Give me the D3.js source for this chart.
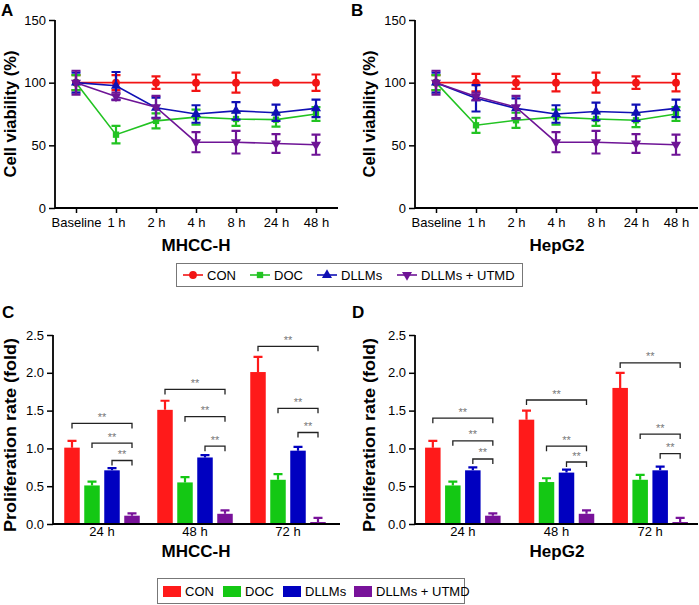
<!DOCTYPE html>
<html>
<head>
<meta charset="utf-8">
<script src="https://cdn.jsdelivr.net/npm/d3@7"></script>
<style>
  body { margin: 0; background: #fff; }
  text { font-family: "Liberation Sans", Arial, sans-serif; }
</style>
</head>
<body>
<script>
'use strict';

// categories
var timePoints = ['Baseline', '1 h', '2 h', '4 h', '8 h', '24 h', '48 h'];
var groups     = ['CON', 'DOC', 'DLLMs', 'DLLMs + UTMD'];
var days       = ['24 h', '48 h', '72 h'];
var lineColors = ['#f21414', '#22c322', '#1010b4', '#6e1496'];
var barColors  = ['#ff1a1a', '#14c814', '#0000c0', '#78129a'];

// A: MHCC-H viability (%)
var mhccCon      = [100, 100, 100, 100, 100, 100, 100];
var mhccConErr   = [6, 6, 5, 6.5, 8, 0, 6.5];
var mhccDoc      = [100, 58.5, 69.5, 72.5, 71, 70.5, 75];
var mhccDocErr   = [6, 7, 6, 6, 5.5, 5.5, 5.5];
var mhccDllm     = [100, 97.5, 80, 75, 77.5, 76, 79.5];
var mhccDllmErr  = [8, 11, 8, 7, 7, 6.5, 7];
var mhccUtmd     = [100, 89, 80.5, 52.5, 52.5, 51.5, 50.5];
var mhccUtmdErr  = [9.5, 3, 9, 8, 9, 7.5, 8];

// B: HepG2 viability (%)
var hepCon       = [100, 100, 100, 100, 100, 100, 100];
var hepConErr    = [6, 7, 5, 7, 8, 5, 7];
var hepDoc       = [100, 66, 70, 72.5, 71, 70, 75];
var hepDocErr    = [6, 6, 6, 6, 5.5, 5.5, 5.5];
var hepDllm      = [100, 87.5, 79.5, 75, 77, 76, 79.5];
var hepDllmErr   = [8, 10.5, 8, 7, 7, 6.5, 7];
var hepUtmd      = [100, 89, 80.5, 52.5, 52.5, 51.5, 50.5];
var hepUtmdErr   = [9.5, 3, 9, 8, 9, 7.5, 8];

// C: MHCC-H proliferation (fold), per group across days
var mhccProCon     = [1.01, 1.51, 2.01];
var mhccProConErr  = [0.09, 0.12, 0.2];
var mhccProDoc     = [0.51, 0.55, 0.585];
var mhccProDocErr  = [0.05, 0.07, 0.075];
var mhccProDllm    = [0.71, 0.88, 0.97];
var mhccProDllmErr = [0.03, 0.03, 0.05];
var mhccProUtmd    = [0.11, 0.135, 0.026];
var mhccProUtmdErr = [0.03, 0.045, 0.055];
// bracket heights (fold): CON-UTMD, DOC-UTMD, DLLMs-UTMD per day
var mhccBrackets   = [[1.33, 1.07, 0.84], [1.78, 1.42, 1.03], [2.35, 1.53, 1.21]];

// D: HepG2 proliferation (fold)
var hepProCon      = [1.01, 1.38, 1.80];
var hepProConErr   = [0.09, 0.12, 0.2];
var hepProDoc      = [0.51, 0.555, 0.585];
var hepProDocErr   = [0.05, 0.05, 0.065];
var hepProDllm     = [0.71, 0.68, 0.71];
var hepProDllmErr  = [0.04, 0.04, 0.05];
var hepProUtmd     = [0.11, 0.135, 0.026];
var hepProUtmdErr  = [0.03, 0.045, 0.055];
var hepBrackets    = [[1.40, 1.10, 0.86], [1.64, 1.03, 0.82], [2.13, 1.19, 0.93]];

var yTicksLine = [0, 50, 100, 150];
var yTicksBar  = [0, 0.5, 1.0, 1.5, 2.0, 2.5];

var svg = d3.select('body').append('svg')
  .attr('width', 699).attr('height', 605);

var symbols = [
  d3.symbol().type(d3.symbolCircle).size(48),
  d3.symbol().type(d3.symbolSquare).size(40),
  d3.symbol().type(d3.symbolTriangle).size(44),
  d3.symbol().type(d3.symbolTriangle).size(44)
];
function symRotate(i){ return i === 3 ? ' rotate(180)' : ''; }

function styleAxis(g){
  g.selectAll('.domain').remove();
  g.selectAll('line').attr('stroke', '#000').attr('stroke-width', 1.5);
  g.selectAll('text').attr('font-size', 13).attr('fill', '#000')
    .style('font-family', '"Liberation Sans", Arial, sans-serif');
}

// ---- line panels ----
function linePanel(p){
  var g = svg.append('g');
  var x = d3.scalePoint().domain(timePoints).range([p.first, p.last]);
  var y = d3.scaleLinear().domain([0, 150]).range([208, 20]);

  g.append('g').attr('transform', 'translate(0,208)')
    .call(d3.axisBottom(x).tickSize(5).tickPadding(5)).call(styleAxis);
  g.append('g').attr('transform', 'translate(' + p.axisX + ',0)')
    .call(d3.axisLeft(y).tickValues(yTicksLine).tickSize(6).tickPadding(3)).call(styleAxis);
  g.append('path').attr('d', 'M' + p.axisX + ',20V208H' + p.axisEnd)
    .attr('fill', 'none').attr('stroke', '#000').attr('stroke-width', 1.8);

  p.series.forEach(function(s, i){
    var c = lineColors[i];
    var pts = s[0].map(function(v, k){ return { t: timePoints[k], v: v, e: s[1][k] }; });
    var eb = g.append('g').attr('stroke', c).attr('stroke-width', 2.2).attr('fill', 'none');
    pts.forEach(function(d){
      if (!d.e) return;
      var cx = x(d.t), yt = y(d.v + d.e), yb = y(d.v - d.e);
      eb.append('path').attr('d', 'M' + cx + ',' + yt + 'V' + yb +
        'M' + (cx - 4.5) + ',' + yt + 'H' + (cx + 4.5) +
        'M' + (cx - 4.5) + ',' + yb + 'H' + (cx + 4.5));
    });
    g.append('path').datum(pts)
      .attr('fill', 'none').attr('stroke', c).attr('stroke-width', 1.6)
      .attr('d', d3.line().x(function(d){ return x(d.t); }).y(function(d){ return y(d.v); }));
    g.selectAll(null).data(pts).enter().append('path')
      .attr('d', symbols[i]).attr('fill', c)
      .attr('transform', function(d){ return 'translate(' + x(d.t) + ',' + y(d.v) + ')' + symRotate(i); });
  });

  g.append('text').attr('x', p.letterX).attr('y', 16)
    .attr('font-size', 17).attr('font-weight', 'bold').text(p.letter);
  g.append('text').attr('x', p.titleX).attr('y', 251).attr('text-anchor', 'middle')
    .attr('font-size', 17).attr('font-weight', 'bold').text(p.title);
  g.append('text').attr('transform', 'translate(' + p.yTitleX + ',114) rotate(-90)')
    .attr('text-anchor', 'middle').attr('font-size', 17).attr('font-weight', 'bold')
    .attr('textLength', 127).attr('lengthAdjust', 'spacingAndGlyphs')
    .text('Cell viability (%)');
}

linePanel({ axisX: 55, axisEnd: 338, first: 76, last: 316, letter: 'A', letterX: 1,
  title: 'MHCC-H', titleX: 196, yTitleX: 16,
  series: [[mhccCon, mhccConErr], [mhccDoc, mhccDocErr], [mhccDllm, mhccDllmErr], [mhccUtmd, mhccUtmdErr]] });
linePanel({ axisX: 415, axisEnd: 698, first: 436, last: 676, letter: 'B', letterX: 351,
  title: 'HepG2', titleX: 557, yTitleX: 375,
  series: [[hepCon, hepConErr], [hepDoc, hepDocErr], [hepDllm, hepDllmErr], [hepUtmd, hepUtmdErr]] });

// ---- top legend ----
var legTop = svg.append('g');
legTop.append('rect').attr('x', 176.5).attr('y', 263.5).attr('width', 346).attr('height', 23)
  .attr('fill', '#fff').attr('stroke', '#777').attr('stroke-width', 1);
var legTopX = [183, 250, 317, 397];
groups.forEach(function(name, i){
  var lx = legTopX[i];
  legTop.append('line').attr('x1', lx).attr('x2', lx + 20).attr('y1', 275).attr('y2', 275)
    .attr('stroke', lineColors[i]).attr('stroke-width', 1.6);
  legTop.append('path').attr('d', symbols[i]).attr('fill', lineColors[i])
    .attr('transform', 'translate(' + (lx + 10) + ',275)' + symRotate(i));
  legTop.append('text').attr('x', lx + 24).attr('y', 279.5).attr('font-size', 13).text(name);
});

// ---- bar panels ----
function barPanel(p){
  var g = svg.append('g');
  var x0 = d3.scaleBand().domain(days).range([p.bandStart, p.bandEnd]);
  var x1 = d3.scaleBand().domain(groups).range([-40, 40]).paddingInner(0.225).paddingOuter(0.1125);
  var y = d3.scaleLinear().domain([0, 2.5]).range([524, 335]);
  function cx(di, gi){ return x0(days[di]) + x0.bandwidth() / 2 + x1(groups[gi]) + x1.bandwidth() / 2; }

  g.append('g').attr('transform', 'translate(0,524)')
    .call(d3.axisBottom(x0).tickSize(0).tickPadding(3)).call(styleAxis);
  g.append('g').attr('transform', 'translate(' + p.axisX + ',0)')
    .call(d3.axisLeft(y).tickValues(yTicksBar).tickFormat(d3.format('.1f')).tickSize(6).tickPadding(3))
    .call(styleAxis);

  p.series.forEach(function(s, gi){
    var c = barColors[gi];
    s[0].forEach(function(v, di){
      var xc = cx(di, gi), e = s[1][di];
      g.append('rect').attr('x', xc - x1.bandwidth() / 2).attr('width', x1.bandwidth())
        .attr('y', y(v)).attr('height', y(0) - y(v)).attr('fill', c);
      g.append('path').attr('d', 'M' + xc + ',' + y(v) + 'V' + y(v + e) +
          'M' + (xc - 4.5) + ',' + y(v + e) + 'H' + (xc + 4.5))
        .attr('stroke', c).attr('stroke-width', 2.2).attr('fill', 'none');
    });
  });

  g.append('path').attr('d', 'M' + p.axisX + ',335V524H' + p.axisEnd)
    .attr('fill', 'none').attr('stroke', '#000').attr('stroke-width', 1.8);

  // significance brackets
  p.brackets.forEach(function(row, di){
    row.forEach(function(h, bi){
      var xa = cx(di, bi), xb = cx(di, 3), yy = y(h);
      g.append('path').attr('d', 'M' + xa + ',' + (yy + 5) + 'V' + yy + 'H' + xb + 'V' + (yy + 5))
        .attr('fill', 'none').attr('stroke', '#222').attr('stroke-width', 1.3);
      g.append('text').attr('x', (xa + xb) / 2).attr('y', yy - 2.5).attr('text-anchor', 'middle')
        .attr('font-size', 11).attr('fill', '#777').text('**');
    });
  });

  g.append('text').attr('x', p.letterX).attr('y', 318)
    .attr('font-size', 17).attr('font-weight', 'bold').text(p.letter);
  g.append('text').attr('x', p.titleX).attr('y', 557).attr('text-anchor', 'middle')
    .attr('font-size', 17).attr('font-weight', 'bold').text(p.title);
  g.append('text').attr('transform', 'translate(' + p.yTitleX + ',435) rotate(-90)')
    .attr('text-anchor', 'middle').attr('font-size', 17).attr('font-weight', 'bold')
    .attr('textLength', 194).attr('lengthAdjust', 'spacingAndGlyphs')
    .text('Proliferation rate (fold)');
}

barPanel({ axisX: 53, axisEnd: 340, bandStart: 55.5, bandEnd: 334.5, letter: 'C', letterX: 2,
  title: 'MHCC-H', titleX: 196, yTitleX: 16, brackets: mhccBrackets,
  series: [[mhccProCon, mhccProConErr], [mhccProDoc, mhccProDocErr], [mhccProDllm, mhccProDllmErr], [mhccProUtmd, mhccProUtmdErr]] });
barPanel({ axisX: 415, axisEnd: 698, bandStart: 416, bandEnd: 697, letter: 'D', letterX: 352,
  title: 'HepG2', titleX: 557, yTitleX: 375, brackets: hepBrackets,
  series: [[hepProCon, hepProConErr], [hepProDoc, hepProDocErr], [hepProDllm, hepProDllmErr], [hepProUtmd, hepProUtmdErr]] });

// ---- bottom legend ----
var legBot = svg.append('g');
legBot.append('rect').attr('x', 157.5).attr('y', 578.5).attr('width', 307).attr('height', 25)
  .attr('fill', '#fff').attr('stroke', '#777').attr('stroke-width', 1);
var legBotX = [163, 223, 283, 354];
groups.forEach(function(name, i){
  var lx = legBotX[i];
  legBot.append('rect').attr('x', lx).attr('y', 586).attr('width', 18).attr('height', 11)
    .attr('fill', barColors[i]);
  legBot.append('text').attr('x', lx + 22).attr('y', 596).attr('font-size', 13).text(name);
});
</script>
</body>
</html>
